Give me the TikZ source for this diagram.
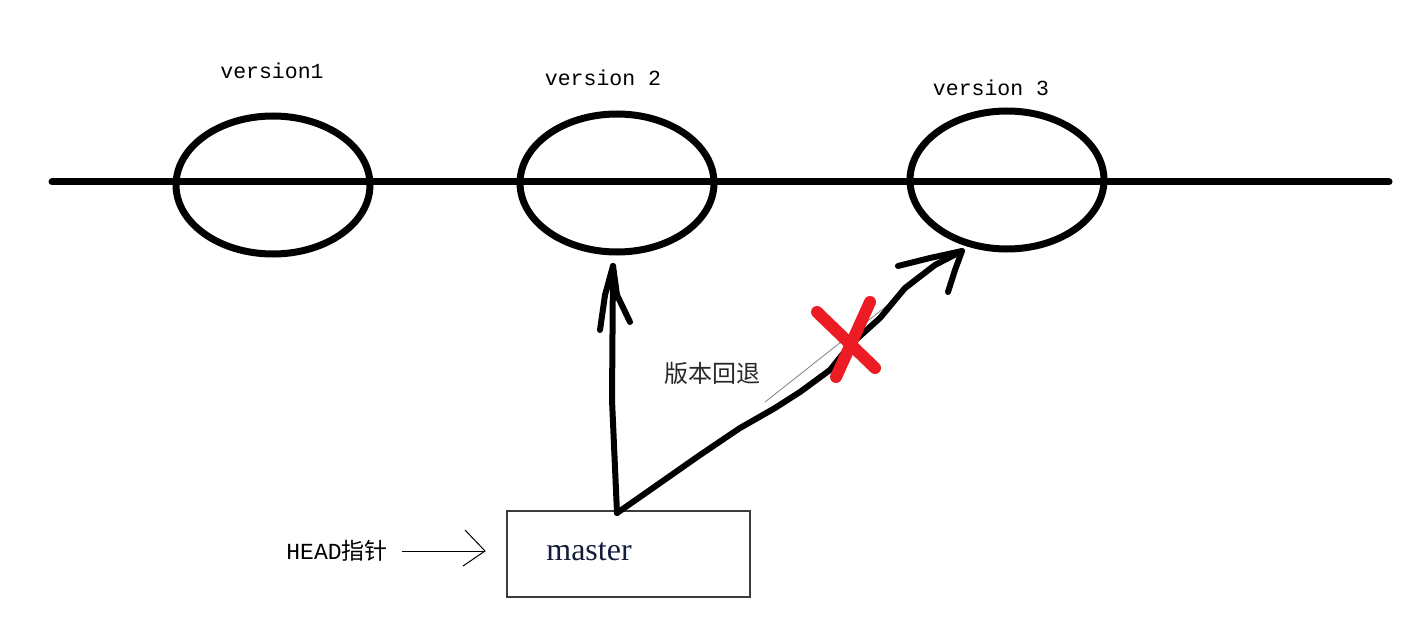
\documentclass[tikz,border=0pt]{standalone}
\usepackage{fontspec}
\setmainfont{Liberation Serif}
\newfontfamily\monof{Liberation Mono}
\newfontfamily\cjkf{Noto Sans CJK SC}
\usetikzlibrary{shapes.geometric}
\begin{document}
\begin{tikzpicture}[x=1pt,y=-1pt,
  verell/.style={ellipse,draw=black,line width=7pt,minimum width=194pt,minimum height=138pt,inner sep=0pt},
  verlabel/.style={font=\fontsize{21.5}{24}\selectfont\monof,anchor=center},
  pen/.style={line width=6pt,line cap=round,line join=round,black},
  cross/.style={line width=12pt,line cap=round,draw={rgb,255:red,237;green,28;blue,36}},
  thinarrow/.style={line width=1pt,black}]
\useasboundingbox (0,0) rectangle (1420,620);
\fill[white] (0,0) rectangle (1420,620);
% timeline
\coordinate (lstart) at (52,182);
\coordinate (lend) at (1389,182);
\draw[line width=7pt,line cap=round] (lstart) -- (lend);
% versions
\node[verell] (v1) at (273,185) {};
\node[verell] (v2) at (617,183) {};
\node[verell] (v3) at (1007,180) {};
\node[verlabel] (t1) at (272,71) {version1};
\node[verlabel] (t2) at (603,78) {version 2};
\node[verlabel] (t3) at (991,88) {version 3};
% master box
\node[draw={rgb,255:red,60;green,60;blue,60},line width=1.5pt,minimum width=243pt,minimum height=86pt,inner sep=0pt] (master) at (628.5,554) {};
\node[font=\fontsize{32}{36}\selectfont,text={rgb,255:red,20;green,30;blue,60}] (mtext) at (589,552) {master};
% HEAD pointer
\node[font=\fontsize{23}{26}\selectfont] (head) at (337,551) {{\monof HEAD}{\cjkf 指针}};
\coordinate (hs) at (402,551);
\coordinate (he) at (485,551);
\draw[thinarrow] (hs) -- (he);
\draw[thinarrow] (465,530) -- (he) -- (463,566);
% vertical arrow master -> version 2
\coordinate (m1) at (617,513);
\coordinate (tip2) at (613,266);
\draw[pen] (m1) -- (612,400) -- (tip2);
\draw[pen] (600,330) -- (605,295) -- (tip2) -- (617,295) -- (630,322);
% diagonal arrow master -> version 3
\coordinate (tip3) at (962,251);
\draw[gray,line width=0.8pt] (765,402) -- (955,252);
\draw[pen] (m1) -- (650,490) -- (690,462) -- (700,455) -- (740,428) -- (775,408) -- (800,392) -- (830,370) -- (850,345) -- (880,318) -- (905,288) -- (935,265) -- (tip3);
\draw[pen] (898,266) -- (930,258) -- (tip3) -- (955,270) -- (948,292);
% red cross
\coordinate (c1) at (817,312);
\coordinate (c2) at (875,368);
\coordinate (c3) at (870,302);
\coordinate (c4) at (836,377);
\draw[cross] (c1) -- (c2);
\draw[cross] (c3) -- (c4);
% label
\node[font=\fontsize{24}{28}\selectfont\cjkf,text={rgb,255:red,40;green,40;blue,40}] (rb) at (712,373) {版本回退};
\end{tikzpicture}
\end{document}
